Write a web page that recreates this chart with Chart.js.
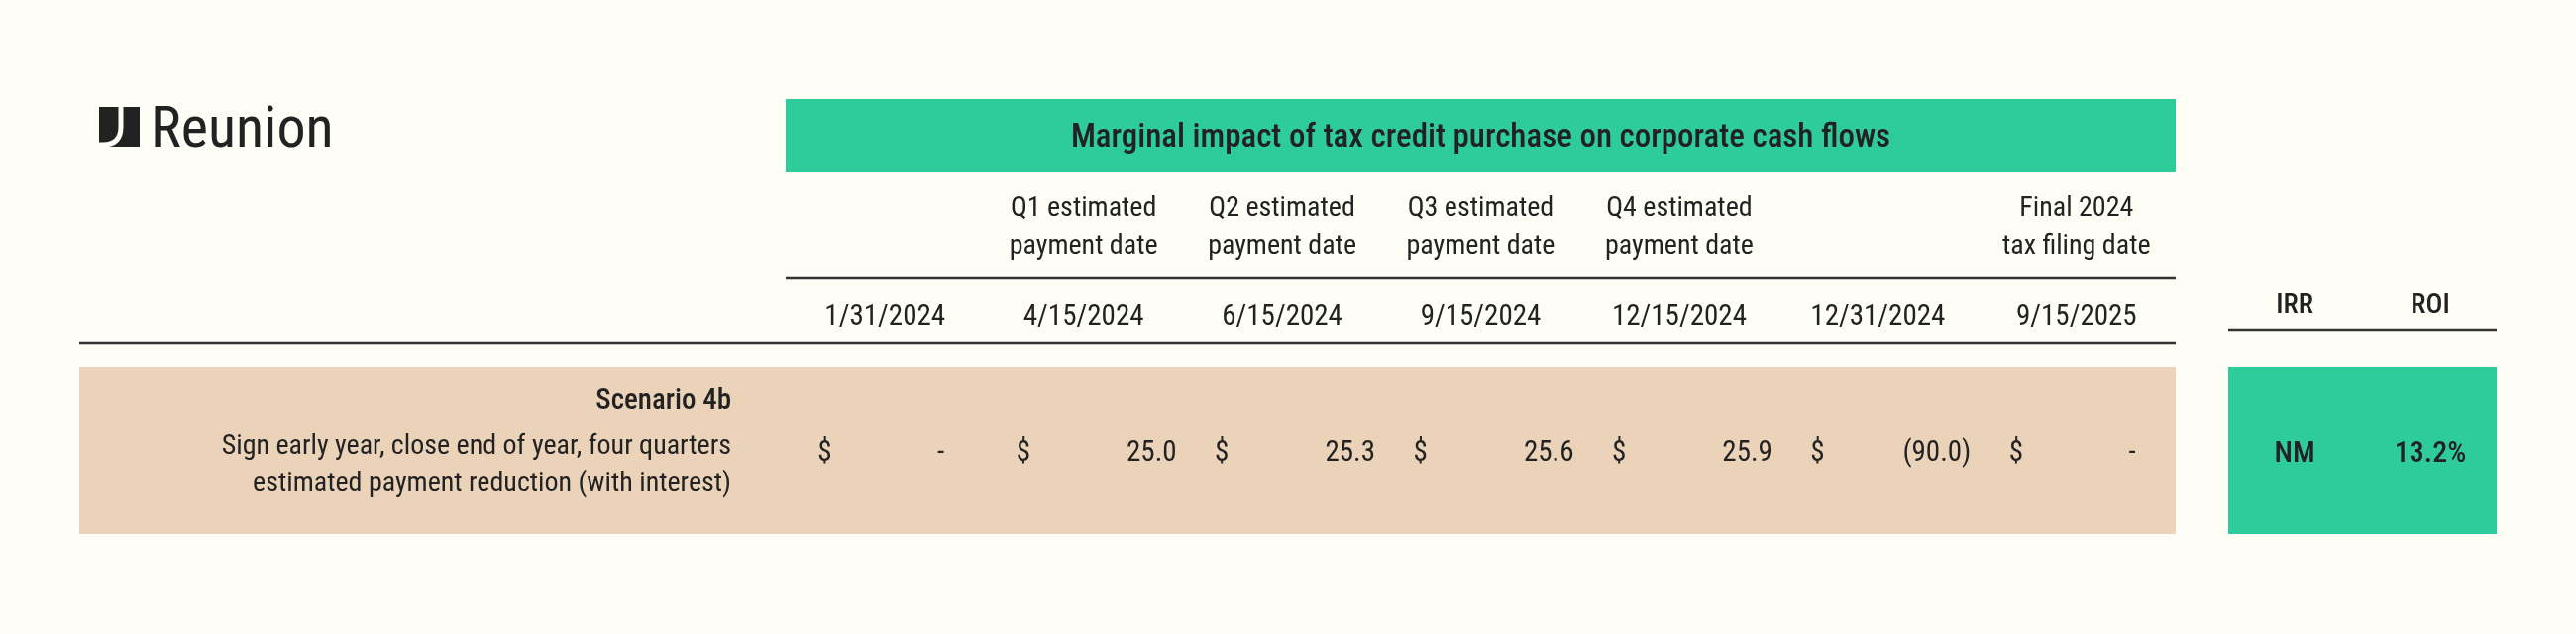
<!DOCTYPE html>
<html><head><meta charset="utf-8">
<script src="https://cdn.jsdelivr.net/npm/chart.js@4/dist/chart.umd.min.js"></script>
<style>html,body{margin:0;padding:0;background:#FEFDF6;}canvas{display:block}</style>
</head><body>
<canvas id="c" width="2600" height="640"></canvas>
<script>
const dates = ["1/31/2024","4/15/2024","6/15/2024","9/15/2024","12/15/2024","12/31/2024","9/15/2025"];
const headerLine1 = ["","Q1 estimated","Q2 estimated","Q3 estimated","Q4 estimated","","Final 2024"];
const headerLine2 = ["","payment date","payment date","payment date","payment date","","tax filing date"];
const cashFlows = [0, 25.0, 25.3, 25.6, 25.9, -90.0, 0];
const title = "Marginal impact of tax credit purchase on corporate cash flows";
const scenarioName = "Scenario 4b";
const scenarioDesc = ["Sign early year, close end of year, four quarters","estimated payment reduction (with interest)"];
const metricLabels = ["IRR","ROI"];
const metricValues = ["NM","13.2%"];

const FONT = '"Liberation Sans Narrow","Roboto Condensed",Roboto,sans-serif';
const TXT = '#222222', GREEN = '#2ECC9A', BEIGE = '#EAD3B9';

function fmt(v){ if(v===0) return '-'; if(v<0) return '('+Math.abs(v).toFixed(1)+')'; return v.toFixed(1); }

const tablePlugin = {
  id:'table',
  beforeDraw(chart){
    const ctx = chart.ctx, x = chart.scales.x;
    const L = x.left, R = x.right;
    ctx.save();
    ctx.fillStyle = '#FEFDF6'; ctx.fillRect(0,0,chart.width,chart.height);
    // logo
    ctx.fillStyle = '#222';
    ctx.fillRect(100,108,41,40);
    ctx.strokeStyle = '#FEFDF6'; ctx.lineWidth = 5;
    ctx.beginPath(); ctx.moveTo(122,106); ctx.lineTo(122,128); ctx.quadraticCurveTo(122,146,104,146); ctx.lineTo(98,146); ctx.stroke();
    ctx.fillStyle = '#222';
    ctx.font = '400 58px '+FONT; ctx.textBaseline='alphabetic'; ctx.textAlign='left';
    ctx.fillText('Reunion',152,148);
    // header band
    ctx.fillStyle = GREEN; ctx.fillRect(L,100,R-L,74);
    ctx.fillStyle = TXT; ctx.font = '500 33px '+FONT; ctx.textAlign='center'; ctx.textBaseline='middle';
    ctx.fillText(title,(L+R)/2,140);
    // column headers
    dates.forEach((d,i)=>{
      const cx = x.getPixelForValue(i);
      ctx.font = '400 28px '+FONT;
      ctx.fillText(headerLine1[i],cx,211);
      ctx.fillText(headerLine2[i],cx,249);
      ctx.font = '400 29px '+FONT;
      ctx.fillText(d,cx,321);
    });
    ctx.strokeStyle = '#333'; ctx.lineWidth = 2.5;
    ctx.beginPath(); ctx.moveTo(L,281); ctx.lineTo(R,281); ctx.stroke();
    ctx.beginPath(); ctx.moveTo(80,346); ctx.lineTo(R,346); ctx.stroke();
    // metrics header
    const mL = 2249, mR = 2520, mC = [2316,2453];
    ctx.font = '500 28px '+FONT;
    metricLabels.forEach((m,i)=>ctx.fillText(m,mC[i],309));
    ctx.beginPath(); ctx.moveTo(mL,333); ctx.lineTo(mR,333); ctx.stroke();
    // scenario row
    ctx.fillStyle = BEIGE; ctx.fillRect(80,370,R-80,169);
    ctx.fillStyle = GREEN; ctx.fillRect(mL,370,mR-mL,169);
    ctx.fillStyle = TXT; ctx.textAlign='right';
    ctx.font = '500 29px '+FONT; ctx.fillText(scenarioName,738,406);
    ctx.font = '400 28px '+FONT;
    ctx.fillText(scenarioDesc[0],738,451);
    ctx.fillText(scenarioDesc[1],738,489);
    ctx.font = '400 29px '+FONT;
    cashFlows.forEach((v,i)=>{
      const cx = x.getPixelForValue(i);
      ctx.textAlign='left'; ctx.fillText('$',cx-68,458);
      ctx.textAlign='right';
      const off = v===0 ? 60 : 94;
      ctx.fillText(fmt(v),cx+off,458);
    });
    ctx.textAlign='center'; ctx.font = '500 30px '+FONT;
    metricValues.forEach((m,i)=>ctx.fillText(m,mC[i],458));
    ctx.restore();
  }
};

new Chart(document.getElementById('c'),{
  type:'bar',
  data:{labels:dates,datasets:[{data:cashFlows,backgroundColor:'rgba(0,0,0,0)'}]},
  options:{responsive:false,animation:false,devicePixelRatio:1,
    layout:{padding:{left:793,right:404,top:0,bottom:0}},
    plugins:{legend:{display:false},tooltip:{enabled:false}},
    scales:{x:{display:false},y:{display:false}}},
  plugins:[tablePlugin]
});
</script>
</body></html>
